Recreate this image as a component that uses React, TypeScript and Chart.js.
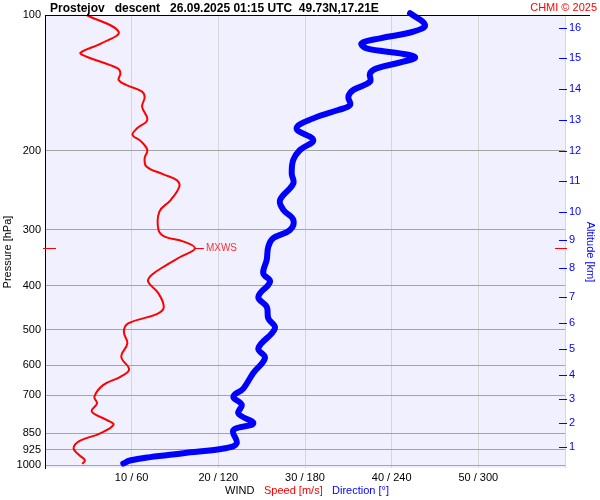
import React, { useEffect, useRef } from 'react';
import { Chart, registerables } from 'chart.js';

Chart.register(...registerables);

const FONT = "'Liberation Sans', Arial, Helvetica, sans-serif";

const titleText = 'Prostejov   descent   26.09.2025 01:15 UTC  49.73N,17.21E';
const creditText = 'CHMI \u00A9 2025';

const pressureTicks = [100, 200, 300, 400, 500, 600, 700, 850, 925, 1000];
const altitudeKm = [1, 2, 3, 4, 5, 6, 7, 8, 9, 10, 11, 12, 13, 14, 15, 16];
const altitudePressure = [912, 806.5, 713.4, 631, 552.4, 483.5, 423.3, 365, 316.2, 274, 233.8, 200.5, 171.2, 146, 124.6, 106.9];
const windTicks = [0, 10, 20, 30, 40, 50, 60];

const speedPressure = [100, 108.9, 115.6, 121.3, 123.8, 131.4, 134.8, 139.5, 143.1, 148, 152.4, 159.9, 171, 178.7, 184.8, 190.2, 199.5, 208, 217, 225.7, 232.7, 240.5, 257.7, 273.3, 300.4, 310.6, 318.8, 330, 344.9, 359.4, 378.3, 391.3, 415.7, 446.3, 461.8, 484.6, 505.5, 536.5, 574.4, 612.9, 636.6, 664.2, 704.9, 729.5, 760.3, 793.4, 813.5, 851, 884, 918, 952, 975, 994];
const speedValues = [4.8, 8.5, 6.5, 4.1, 4.8, 8.4, 8.7, 8.5, 9.4, 11.2, 11.5, 11.2, 11.8, 10.6, 10.1, 11.0, 11.8, 11.5, 11.7, 13.6, 15.2, 15.5, 14.5, 13.2, 13.1, 13.8, 16.0, 17.3, 15.6, 14.0, 12.3, 11.9, 13.1, 13.7, 12.9, 9.6, 9.1, 9.5, 8.8, 9.7, 8.7, 6.7, 5.7, 6.0, 5.4, 7.1, 7.9, 6.3, 4.0, 3.3, 4.0, 4.6, 4.3];

const dirPressure = [99.1, 105.2, 108.9, 112.7, 115.6, 118.6, 121.7, 124.2, 127, 131.4, 134.8, 140.7, 146.8, 151.9, 158.5, 162.6, 169.7, 178.7, 189.6, 199.5, 209.8, 224.9, 236.8, 257.7, 270.9, 285.1, 300.4, 313.3, 327, 350, 375, 391, 423, 445, 472, 497, 550, 578, 624, 676, 705, 734, 768, 808, 836, 894, 916, 941, 960, 977, 992];
const dirValues = [252.7, 263.1, 255, 231.9, 219.2, 222.7, 245.8, 256.2, 248, 229.6, 225, 225, 213.4, 210, 211.2, 203, 185.7, 174.2, 185.7, 176.5, 171.9, 170.8, 171.9, 162.7, 165, 171.9, 169.6, 158, 154.6, 153.5, 151.1, 155.8, 147.7, 153.5, 154.6, 159.2, 147.7, 152.3, 144.2, 137.3, 130.4, 136.2, 133.9, 144.2, 130.4, 132.7, 125.8, 95.8, 72.7, 58.8, 54.2];

const decorPlugin = {
  id: 'decor',
  beforeDraw(chart: any) {
    const { ctx, chartArea: a } = chart;
    ctx.save();
    ctx.fillStyle = '#f0f0ff';
    ctx.fillRect(a.left, a.top, a.right - a.left, a.bottom - a.top);
    ctx.restore();
  },
  afterDraw(chart: any) {
    const { ctx, chartArea: a } = chart;
    const xs = chart.scales.x;
    const ys = chart.scales.y;
    ctx.save();
    // top black line
    ctx.strokeStyle = '#000';
    ctx.lineWidth = 1;
    ctx.beginPath();
    ctx.moveTo(a.left, a.top + 0.5);
    ctx.lineTo(590, a.top + 0.5);
    ctx.stroke();

    // title
    ctx.fillStyle = '#000';
    ctx.font = `bold 12px ${FONT}`;
    ctx.textAlign = 'left';
    ctx.textBaseline = 'alphabetic';
    ctx.fillText(titleText, 50, 12);

    ctx.fillStyle = '#ff0000';
    ctx.font = `11px ${FONT}`;
    ctx.textAlign = 'right';
    ctx.fillText(creditText, 597, 11);

    // bottom legend
    ctx.textAlign = 'left';
    ctx.textBaseline = 'middle';
    ctx.font = `11px ${FONT}`;
    ctx.fillStyle = '#000';
    ctx.fillText('WIND', 225, 491);
    ctx.fillStyle = '#ff0000';
    ctx.fillText('Speed [m/s]', 264, 491);
    ctx.fillStyle = '#0000ff';
    ctx.fillText('Direction [\u00B0]', 332, 491);

    // axis titles
    ctx.save();
    ctx.translate(8, 252);
    ctx.rotate(-Math.PI / 2);
    ctx.textAlign = 'center';
    ctx.textBaseline = 'middle';
    ctx.fillStyle = '#000';
    ctx.fillText('Pressure [hPa]', 0, 0);
    ctx.restore();

    ctx.save();
    ctx.translate(590, 252);
    ctx.rotate(Math.PI / 2);
    ctx.textAlign = 'center';
    ctx.textBaseline = 'middle';
    ctx.fillStyle = '#0000ff';
    ctx.fillText('Altitude [km]', 0, 0);
    ctx.restore();

    // altitude dashes
    const alt = chart.scales.alt;
    ctx.strokeStyle = '#0000ff';
    ctx.lineWidth = 1;
    altitudePressure.forEach((p) => {
      const y = Math.round(alt.getPixelForValue(p)) + 0.5;
      ctx.beginPath();
      ctx.moveTo(a.right - 6, y);
      ctx.lineTo(a.right + 2, y);
      ctx.stroke();
    });

    // MXWS
    let mi = 0;
    speedValues.forEach((v, i) => { if (v > speedValues[mi]) mi = i; });
    const px = xs.getPixelForValue(speedValues[mi]);
    const py = Math.round(ys.getPixelForValue(speedPressure[mi])) + 0.5;
    ctx.strokeStyle = '#ff0000';
    ctx.beginPath();
    ctx.moveTo(px, py);
    ctx.lineTo(px + 9, py);
    ctx.moveTo(a.left - 2, py);
    ctx.lineTo(a.left + 11, py);
    ctx.moveTo(a.right - 10, py);
    ctx.lineTo(a.right + 2, py);
    ctx.stroke();
    ctx.fillStyle = '#ff3333';
    ctx.font = `10px ${FONT}`;
    ctx.textAlign = 'left';
    ctx.textBaseline = 'middle';
    ctx.fillText('MXWS', px + 11, py);
    ctx.restore();
  },
};

export default function App() {
  const ref = useRef<HTMLCanvasElement>(null);
  useEffect(() => {
    if (!ref.current) return;
    const chart = new Chart(ref.current, {
      type: 'scatter',
      data: {
        datasets: [
          {
            label: 'Speed',
            data: speedPressure.map((p, i) => ({ x: speedValues[i], y: p })),
            showLine: true,
            borderColor: '#ff0000',
            borderWidth: 2,
            pointRadius: 0,
            tension: 0.4,
            xAxisID: 'x',
            yAxisID: 'y',
          },
          {
            label: 'Direction',
            data: dirPressure.map((p, i) => ({ x: dirValues[i], y: p })),
            showLine: true,
            borderColor: '#0000ff',
            borderWidth: 6,
            borderCapStyle: 'round',
            borderJoinStyle: 'round',
            pointRadius: 0,
            tension: 0.4,
            clip: false,
            xAxisID: 'x2',
            yAxisID: 'y',
          },
        ],
      },
      options: {
        responsive: false,
        animation: false,
        layout: { padding: { top: 15, left: 0, right: 0, bottom: 0 } },
        plugins: { legend: { display: false }, tooltip: { enabled: false } },
        scales: {
          x: {
            type: 'linear',
            min: 0,
            max: 60,
            afterBuildTicks: (s: any) => { s.ticks = windTicks.map((v) => ({ value: v })); },
            afterFit: (s: any) => { s.height = 32; },
            ticks: {
              autoSkip: false,
              maxRotation: 0,
              padding: 3,
              color: '#000',
              font: { size: 11, family: FONT },
              callback: (v: any) => (v > 0 && v < 60 ? `${v} / ${v * 6}` : ''),
            },
            grid: {
              drawTicks: false,
              color: (c: any) => (c.tick && c.tick.value === 0 ? 'rgba(0,0,0,0)' : '#d6d6d6'),
            },
            border: { display: false },
          },
          x2: { type: 'linear', min: 0, max: 360, display: false },
          y: {
            type: 'logarithmic',
            position: 'left',
            reverse: true,
            min: 100,
            max: 1015,
            afterBuildTicks: (s: any) => { s.ticks = pressureTicks.map((v) => ({ value: v })); },
            afterFit: (s: any) => { s.width = 45; },
            ticks: {
              autoSkip: false,
              padding: 4,
              color: '#000',
              font: { size: 11, family: FONT },
              callback: (v: any) => String(v),
            },
            grid: {
              drawTicks: false,
              color: (c: any) => (c.tick && c.tick.value === 100 ? 'rgba(0,0,0,0)' : '#a4a4a4'),
            },
            border: { display: true, color: '#000', width: 1 },
          },
          alt: {
            type: 'logarithmic',
            position: 'right',
            reverse: true,
            min: 100,
            max: 1015,
            afterBuildTicks: (s: any) => { s.ticks = altitudePressure.map((v) => ({ value: v })); },
            afterFit: (s: any) => { s.width = 35; },
            ticks: {
              autoSkip: false,
              padding: 4,
              color: '#0000ff',
              font: { size: 11, family: FONT },
              callback: (v: any) => {
                const i = altitudePressure.indexOf(v);
                return i >= 0 ? String(altitudeKm[i]) : '';
              },
            },
            grid: { drawOnChartArea: false, drawTicks: false },
            border: { display: false },
          },
        },
      },
      plugins: [decorPlugin],
    } as any);
    return () => chart.destroy();
  }, []);
  return (
    <div style={{ position: 'fixed', left: 0, top: 0, width: 600, height: 500, background: '#fff' }}>
      <canvas ref={ref} width={600} height={500} style={{ width: 600, height: 500 }} />
    </div>
  );
}
